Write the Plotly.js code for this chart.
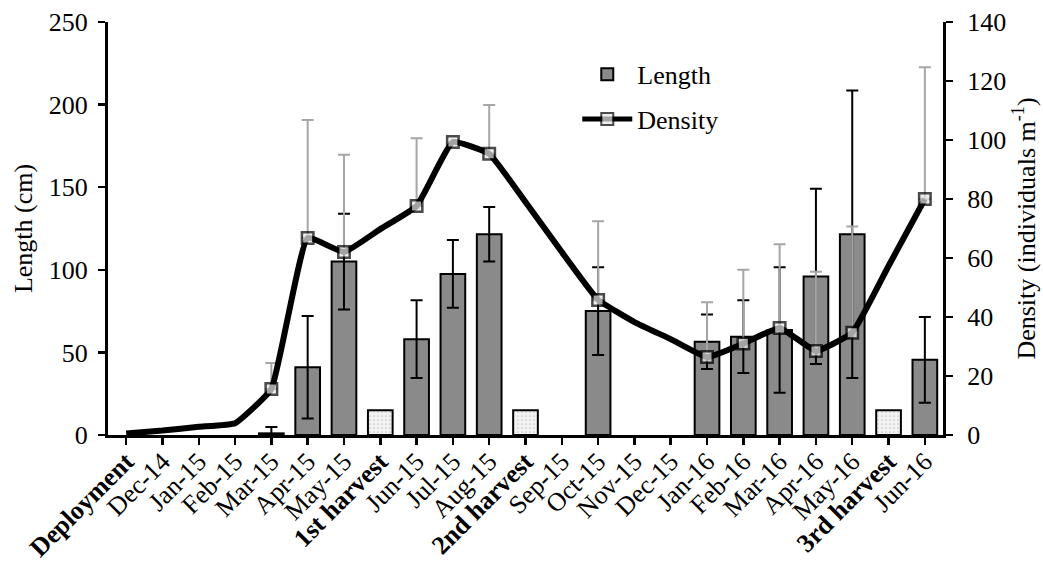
<!DOCTYPE html>
<html>
<head>
<meta charset="utf-8">
<script src="https://cdn.plot.ly/plotly-3.0.1.min.js"></script>
<style>html,body{margin:0;padding:0;background:#fff;}#chart{width:1043px;height:562px;}</style>
</head>
<body>
<div id="chart"></div>
<script>
// ---- data ----
var categories = ['Deployment','Dec-14','Jan-15','Feb-15','Mar-15','Apr-15','May-15','1st harvest','Jun-15','Jul-15','Aug-15','2nd harvest','Sep-15','Oct-15','Nov-15','Dec-15','Jan-16','Feb-16','Mar-16','Apr-16','May-16','3rd harvest','Jun-16'];
var boldLabels = ['Deployment','1st harvest','2nd harvest','3rd harvest'];

// Length (cm), left axis
var lengthValues   = [null,null,null,null,1,41,105,null,58,97.5,121.5,null,null,75,null,null,56.5,59.5,63.5,96,121.5,null,45.5];
var lengthErrPlus  = [null,null,null,null,3.8,31,29,null,23.5,20.5,16.5,null,null,26.5,null,null,16.5,22,38,53,87,null,26];
var lengthErrMinus = [null,null,null,null,1,31,29,null,23.5,20.5,16.5,null,null,26.5,null,null,16.5,22,38,53,87,null,26];

// Harvest events (left axis)
var harvestValues  = [null,null,null,null,null,null,null,15,null,null,null,15,null,null,null,null,null,null,null,null,null,15,null];

// Density (individuals m-1), right axis
var densityValues  = [0.5,1.5,2.8,4,15.6,66.8,62,69.8,77.6,99.3,95.3,79,62,45.8,38.3,32.5,26.4,31,36.3,28.5,34.7,57.3,80];
var densityMeasured= [false,false,false,false,true,true,true,false,true,true,true,false,false,true,false,false,true,true,true,true,true,false,true];
var densityErrPlus = [null,null,null,null,8.8,40,33,null,23,null,16.6,null,null,26.7,null,null,18.6,25,28.4,26.8,36,null,44.7];

// ---- build ----
function nanIfNull(v){ return v === null ? NaN : v; }
var tickText = categories.map(function(c){ return boldLabels.indexOf(c) >= 0 ? '<b>' + c + '</b>' : c; });
var markerSizes = densityMeasured.map(function(m){ return m ? 11.5 : 0; });
var markerLineWidths = densityMeasured.map(function(m){ return m ? 2.5 : 0; });
var dErrPlus = densityErrPlus.map(nanIfNull);
var dErrMinus = densityErrPlus.map(function(v){ return v === null ? NaN : 0; });
var lErrPlus = lengthErrPlus.map(nanIfNull);
var lErrMinus = lengthErrMinus.map(nanIfNull);

var font = 'Liberation Serif, Times New Roman, serif';
var fs = 26;

var traces = [
  {
    type: 'bar', x: categories, y: harvestValues, yaxis: 'y', name: 'Harvest',
    showlegend: false, width: 0.68,
    marker: {color: '#f0f0f0', line: {color: '#000', width: 2},
             pattern: {shape: '.', fgcolor: '#c8c8c8', bgcolor: '#f2f2f2', size: 4, solidity: 0.15}},
    hoverinfo: 'skip'
  },
  {
    type: 'bar', x: categories, y: lengthValues, yaxis: 'y', name: 'Length',
    legendgroup: 'a', width: 0.68,
    marker: {color: '#8a8a8a', line: {color: '#000', width: 2}},
    error_y: {type: 'data', symmetric: false, array: lErrPlus, arrayminus: lErrMinus,
              color: '#000', thickness: 2, width: 6}
  },
  {
    type: 'scatter', mode: 'lines+markers', x: categories, y: densityValues, yaxis: 'y2', name: 'Density',
    legendgroup: 'b',
    line: {color: '#000', width: 6, shape: 'spline', smoothing: 0.35},
    marker: {symbol: 'square', size: markerSizes, color: '#e8e8e8', line: {color: '#000', width: markerLineWidths}},
    error_y: {type: 'data', symmetric: false, array: dErrPlus, arrayminus: dErrMinus,
              color: '#a6a6a6', thickness: 2, width: 6},
    cliponaxis: false
  }
];

var layout = {
  width: 1043, height: 562,
  margin: {l: 108, r: 100, t: 22, b: 127, pad: 0},
  paper_bgcolor: '#fff', plot_bgcolor: '#fff',
  font: {family: font, size: fs, color: '#000'},
  barmode: 'overlay',
  showlegend: true,
  legend: {x: 0.562, y: 0.93, xanchor: 'left', yanchor: 'top', bgcolor: 'rgba(0,0,0,0)',
           font: {family: font, size: fs, color: '#000'}, tracegroupgap: 8, itemsizing: 'constant', itemwidth: 50},
  xaxis: {
    type: 'category', categoryorder: 'array', categoryarray: categories,
    tickvals: categories, ticktext: tickText, tickangle: -45,
    range: [-0.5, categories.length - 0.5],
    showline: true, linecolor: '#000', linewidth: 3, mirror: false,
    ticks: 'outside', ticklen: 7, tickwidth: 2.5, tickcolor: '#000',
    ticklabelstandoff: -9,
    showgrid: false, zeroline: false,
    tickfont: {family: font, size: fs, color: '#000'}
  },
  yaxis: {
    range: [0, 250], dtick: 50, tick0: 0,
    showline: true, linecolor: '#000', linewidth: 3,
    ticks: 'outside', ticklen: 7, tickwidth: 2.5, tickcolor: '#000',
    ticklabelstandoff: 5,
    showgrid: false, zeroline: false,
    tickfont: {family: font, size: fs, color: '#000'},
    title: {text: 'Length (cm)', font: {family: font, size: fs, color: '#000'}, standoff: 9}
  },
  yaxis2: {
    range: [0, 140], dtick: 20, tick0: 0, overlaying: 'y', side: 'right',
    showline: true, linecolor: '#000', linewidth: 3,
    ticks: 'outside', ticklen: 7, tickwidth: 2.5, tickcolor: '#000',
    ticklabelstandoff: 9,
    showgrid: false, zeroline: false,
    tickfont: {family: font, size: fs, color: '#000'},
    title: {text: 'Density (individuals m<sup>-1</sup>)', font: {family: font, size: fs, color: '#000'}, standoff: 12}
  }
};

Plotly.newPlot('chart', traces, layout, {staticPlot: true, displayModeBar: false});
</script>
</body>
</html>
